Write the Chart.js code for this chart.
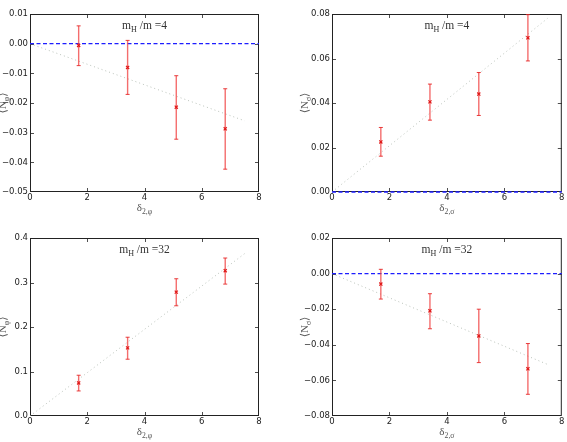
<!DOCTYPE html>
<html><head><meta charset="utf-8">
<script src="https://cdn.jsdelivr.net/npm/chart.js@4"></script>
<style>
html,body{margin:0;padding:0;background:#fff;width:567px;height:442px;overflow:hidden;}
.p{position:absolute;}
canvas{display:block;}
</style></head><body>
<div class="p" style="left:0;top:0"><canvas id="c1" width="290" height="220"></canvas></div>
<div class="p" style="left:290px;top:0"><canvas id="c2" width="277" height="220"></canvas></div>
<div class="p" style="left:0;top:220px"><canvas id="c3" width="290" height="222"></canvas></div>
<div class="p" style="left:290px;top:220px"><canvas id="c4" width="277" height="222"></canvas></div>
<script>
// ---- data ----
const xTicks = [0, 2, 4, 6, 8];
const deltaValues = [1.70, 3.41, 5.11, 6.82];
const fitX = [0, 7.5];

// top-left: m_H/m = 4, <N_phi> vs delta_{2,phi}
const nPhi4 = [-0.0006, -0.0080, -0.0214, -0.0287];
const nPhi4Lo = [-0.0074, -0.0171, -0.0322, -0.0423];
const nPhi4Hi = [0.0060, 0.0011, -0.0108, -0.0152];
const fitPhi4 = [0, -0.026];
const yTicksPhi4 = [-0.05, -0.04, -0.03, -0.02, -0.01, 0.00, 0.01];

// top-right: m_H/m = 4, <N_sigma> vs delta_{2,sigma}
const nSig4 = [0.0225, 0.0405, 0.0440, 0.0693];
const nSig4Lo = [0.0161, 0.0323, 0.0344, 0.0589];
const nSig4Hi = [0.0290, 0.0485, 0.0537, 0.0797];
const fitSig4 = [0, 0.078];
const yTicksSig4 = [0.00, 0.02, 0.04, 0.06, 0.08];

// bottom-left: m_H/m = 32, <N_phi> vs delta_{2,phi}
const nPhi32 = [0.0743, 0.1531, 0.2784, 0.3265];
const nPhi32Lo = [0.0563, 0.1276, 0.2477, 0.2964];
const nPhi32Hi = [0.0916, 0.1770, 0.3084, 0.3550];
const fitPhi32 = [0, 0.365];
const yTicksPhi32 = [0.0, 0.1, 0.2, 0.3, 0.4];

// bottom-right: m_H/m = 32, <N_sigma> vs delta_{2,sigma}
const nSig32 = [-0.0059, -0.0209, -0.0350, -0.0535];
const nSig32Lo = [-0.0143, -0.0310, -0.0500, -0.0678];
const nSig32Hi = [0.0024, -0.0113, -0.0200, -0.0393];
const fitSig32 = [0, -0.051];
const yTicksSig32 = [-0.08, -0.06, -0.04, -0.02, 0.00, 0.02];

const zeroLine = [0, 0];

// ---- helpers ----
const SERIF = '"Liberation Serif", "DejaVu Serif", serif';
const SANS = '"DejaVu Sans", sans-serif';

function drawRich(ctx, parts, x, y, size, color) {
  const sub = size * 0.7;
  let w = 0;
  parts.forEach(([t, s]) => { ctx.font = (s ? sub : size) + 'px ' + SERIF; w += ctx.measureText(t).width; });
  let cx = x - w / 2;
  ctx.fillStyle = color;
  ctx.textBaseline = 'alphabetic';
  ctx.textAlign = 'left';
  parts.forEach(([t, s]) => {
    ctx.font = (s ? sub : size) + 'px ' + SERIF;
    ctx.fillText(t, cx, y + (s ? size * 0.25 : 0));
    cx += ctx.measureText(t).width;
  });
}

const decorPlugin = {
  id: 'decor',
  beforeDatasetsDraw(chart) {
    const {ctx, chartArea: a, scales} = chart;
    ctx.save();
    ctx.strokeStyle = '#222';
    ctx.lineWidth = 1;
    ctx.strokeRect(a.left + 0.5, a.top + 0.5, a.right - a.left - 1, a.bottom - a.top - 1);
    ctx.lineWidth = 0.8;
    ctx.beginPath();
    const tl = 4;
    const xs = scales.x.ticks.slice(1, -1);
    const ys = scales.y.ticks.slice(1, -1);
    xs.forEach(t => {
      const px = Math.round(scales.x.getPixelForValue(t.value)) + 0.5;
      ctx.moveTo(px, a.bottom); ctx.lineTo(px, a.bottom - tl);
      ctx.moveTo(px, a.top); ctx.lineTo(px, a.top + tl);
    });
    ys.forEach(t => {
      const py = Math.round(scales.y.getPixelForValue(t.value)) + 0.5;
      ctx.moveTo(a.left, py); ctx.lineTo(a.left + tl, py);
      ctx.moveTo(a.right, py); ctx.lineTo(a.right - tl, py);
    });
    ctx.stroke();
    ctx.restore();
  },
  afterDraw(chart) {
    const {ctx, chartArea: a} = chart;
    const o = chart.options.plugins.decor;
    ctx.save();
    const cx = (a.left + a.right) / 2;
    const cy = (a.top + a.bottom) / 2;
    drawRich(ctx, o.title, cx, a.top + 15, 11.5, '#333');
    drawRich(ctx, o.xTitle, cx, a.bottom + 19, 11, '#555');
    ctx.translate(a.left - 28, cy);
    ctx.rotate(-Math.PI / 2);
    drawRich(ctx, o.yTitle, 0, 4, 11, '#555');
    ctx.restore();
  }
};

function makeChart(id, cfg) {
  const pts = deltaValues.map((x, i) => ({x, y: cfg.y[i]}));
  const bars = deltaValues.map((x, i) => ({
    type: 'line',
    data: [{x, y: cfg.lo[i]}, {x, y: cfg.hi[i]}],
    borderColor: 'rgba(240,60,60,0.75)',
    borderWidth: 1.4,
    pointStyle: 'line',
    pointRadius: 2,
    pointBorderWidth: 1,
    pointBorderColor: 'rgba(230,40,40,0.9)',
    order: 2
  }));
  const datasets = [
    {
      type: 'line',
      data: fitX.map((x, i) => ({x, y: cfg.fit[i]})),
      borderColor: 'rgba(170,180,170,0.8)',
      borderWidth: 1,
      borderDash: [1, 3],
      pointRadius: 0,
      order: 4
    }
  ];
  if (cfg.zero) {
    datasets.push({
      type: 'line',
      data: [{x: 0, y: zeroLine[0]}, {x: 8, y: zeroLine[1]}],
      borderColor: 'rgb(30,30,255)',
      borderWidth: 1.4,
      borderDash: [4, 2.5],
      pointRadius: 0,
      clip: 2,
      order: 3
    });
  }
  datasets.push(...bars);
  datasets.push({
    type: 'scatter',
    data: pts,
    pointStyle: 'crossRot',
    pointRadius: 2.2,
    pointBorderWidth: 1.2,
    pointBorderColor: '#e01818',
    pointBackgroundColor: '#e01818',
    order: 1
  });
  const yt = cfg.yTicks;
  return new Chart(document.getElementById(id), {
    type: 'scatter',
    data: {datasets},
    options: {
      responsive: false,
      devicePixelRatio: 1,
      animation: false,
      events: [],
      layout: {padding: {left: 0, right: cfg.padR, top: cfg.padT, bottom: 0}},
      plugins: {
        legend: {display: false},
        tooltip: {enabled: false},
        decor: {title: cfg.title, xTitle: cfg.xTitle, yTitle: cfg.yTitle}
      },
      scales: {
        x: {
          type: 'linear', min: 0, max: 8,
          afterBuildTicks: s => { s.ticks = xTicks.map(v => ({value: v})); },
          afterFit: s => { s.height = cfg.xH; },
          grid: {display: false, drawTicks: false},
          border: {display: false},
          ticks: {padding: 1, color: '#222', font: {family: SANS, size: 8.5}, maxRotation: 0,
                  callback: v => String(v)}
        },
        y: {
          type: 'linear', min: yt[0], max: yt[yt.length - 1],
          afterBuildTicks: s => { s.ticks = yt.map(v => ({value: v})); },
          afterFit: s => { s.width = cfg.yW; },
          grid: {display: false, drawTicks: false},
          border: {display: false},
          ticks: {padding: 2, color: '#222', font: {family: SANS, size: 8.5},
                  callback: v => v.toFixed(cfg.dec).replace('-', '\u2212')}
        }
      }
    },
    plugins: [decorPlugin]
  });
}

const title4 = [['m', 0], ['H', 1], [' /m =4', 0]];
const title32 = [['m', 0], ['H', 1], [' /m =32', 0]];
const xPhi = [['\u03b4', 0], ['2,\u03c6', 1]];
const xSig = [['\u03b4', 0], ['2,\u03c3', 1]];
const yPhi = [['\u27e8N', 0], ['\u03c6', 1], ['\u27e9', 0]];
const ySig = [['\u27e8N', 0], ['\u03c3', 1], ['\u27e9', 0]];

makeChart('c1', {y: nPhi4, lo: nPhi4Lo, hi: nPhi4Hi, fit: fitPhi4, yTicks: yTicksPhi4, dec: 2, zero: true,
  yW: 30, padR: 31, padT: 14, xH: 28, title: title4, xTitle: xPhi, yTitle: yPhi});
makeChart('c2', {y: nSig4, lo: nSig4Lo, hi: nSig4Hi, fit: fitSig4, yTicks: yTicksSig4, dec: 2, zero: true,
  yW: 42, padR: 4, padT: 14, xH: 28, title: title4, xTitle: xSig, yTitle: ySig});
makeChart('c3', {y: nPhi32, lo: nPhi32Lo, hi: nPhi32Hi, fit: fitPhi32, yTicks: yTicksPhi32, dec: 1, zero: false,
  yW: 30, padR: 31, padT: 18, xH: 26, title: title32, xTitle: xPhi, yTitle: yPhi});
makeChart('c4', {y: nSig32, lo: nSig32Lo, hi: nSig32Hi, fit: fitSig32, yTicks: yTicksSig32, dec: 2, zero: true,
  yW: 42, padR: 4, padT: 18, xH: 26, title: title32, xTitle: xSig, yTitle: ySig});
</script>
</body></html>
